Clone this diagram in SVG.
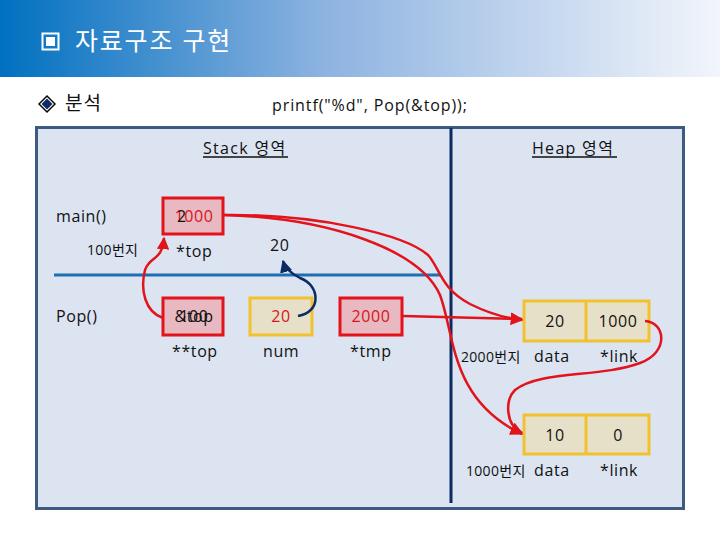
<svg xmlns="http://www.w3.org/2000/svg" width="720" height="540" viewBox="0 0 720 540">
<defs>
<linearGradient id="hdr" x1="0" y1="0" x2="1" y2="0">
<stop offset="0" stop-color="#0070C0"/>
<stop offset="0.45" stop-color="#8DB3E0"/>
<stop offset="1" stop-color="#F2F5FB"/>
</linearGradient>
<marker id="ar" viewBox="0 0 10 10" refX="9" refY="5" markerWidth="5" markerHeight="5" orient="auto" markerUnits="strokeWidth">
<path d="M0,0 L10,5 L0,10 z" fill="#E3131B"/>
</marker>
<marker id="an" viewBox="0 0 10 10" refX="9" refY="5" markerWidth="5" markerHeight="5" orient="auto" markerUnits="strokeWidth">
<path d="M0,0 L10,5 L0,10 z" fill="#0D2B63"/>
</marker>
</defs>
<style>
text{font-family:"Open Sans","Noto Sans CJK KR",sans-serif;fill:#111}
.t16{font-size:16px;letter-spacing:0.6px}
.t14{font-size:14px;letter-spacing:0.3px}
.hd{font-size:16px;letter-spacing:1.3px}
.red{fill:#D7141C}
.rbox{fill:#E8B9C0;stroke:#E3131B;stroke-width:3}
.ybox{fill:#E6E0C8;stroke:#F2C12E;stroke-width:3}
.rl{fill:none;stroke:#E3131B;stroke-width:2.5}
.nl{fill:none;stroke:#0D2B63;stroke-width:2.5}
.c{text-anchor:middle}
</style>
<rect x="0" y="0" width="720" height="77" fill="url(#hdr)"/>
<g id="title">
<rect x="42.5" y="33.5" width="16" height="16" fill="none" stroke="#fff" stroke-width="2"/>
<rect x="46" y="37" width="9" height="9" fill="#fff"/>
<text x="75" y="50" style="font-size:25px;letter-spacing:1.8px;fill:#fff">자료구조 구현</text>
</g>
<g id="subtitle">
<path d="M47,95 L56,104 L47,113 L38,104 z" fill="#000"/>
<path d="M47,97 L54,104 L47,111 L40,104 z" fill="#fff"/>
<path d="M47,98.5 L52.5,104 L47,109.5 L41.5,104 z" fill="#0D2B63"/>
<text x="65" y="110" style="font-size:19px;letter-spacing:1px">분석</text>
<text x="272" y="111" style="font-size:16px;letter-spacing:0.9px" fill="#222">printf("%d", Pop(&amp;top));</text>
</g>
<rect x="36.5" y="127.5" width="647" height="381" fill="#DCE4F2" stroke="#3F5A80" stroke-width="3"/>
<line x1="451" y1="128" x2="451" y2="503" stroke="#0D2B63" stroke-width="3"/>
<line x1="54" y1="275" x2="440" y2="275" stroke="#1F6FB0" stroke-width="3"/>
<g id="headers">
<text x="203" y="154" class="hd">Stack 영역</text>
<line x1="203" y1="157" x2="288" y2="157" stroke="#111" stroke-width="1.5"/>
<text x="532" y="154" class="hd">Heap 영역</text>
<line x1="532" y1="157" x2="617" y2="157" stroke="#111" stroke-width="1.5"/>
</g>
<g id="labels">
<text x="56" y="222" class="t16">main()</text>
<text x="87" y="255" class="t14">100번지</text>
<text x="56" y="322" class="t16">Pop()</text>
<text x="176" y="257" class="t16">*top</text>
<text x="270" y="251" class="t16">20</text>
<text x="172" y="357" class="t16">**top</text>
<text x="263" y="357" class="t16">num</text>
<text x="350" y="357" class="t16">*tmp</text>
</g>
<g id="main-top">
<rect x="163" y="198" width="60" height="36" class="rbox"/>
<text x="194" y="222" class="t16 red c">1000</text>
<text x="177" y="222" class="t16">2</text>
</g>
<g id="pop-top">
<rect x="163" y="298" width="60" height="37" class="rbox"/>
<text x="194" y="322" class="t16 c">&amp;top</text>
<text x="194" y="322" class="t16 c">100</text>
</g>
<g id="num">
<rect x="250" y="298" width="62" height="37" class="ybox"/>
<text x="281" y="322" class="t16 red c">20</text>
</g>
<g id="tmp">
<rect x="340" y="298" width="62" height="37" class="rbox"/>
<text x="371" y="322" class="t16 red c">2000</text>
</g>
<g id="node2000">
<rect x="524" y="301" width="125" height="40" class="ybox"/>
<line x1="586" y1="301" x2="586" y2="341" stroke="#F2C12E" stroke-width="3"/>
<text x="555" y="327" class="t16 c">20</text>
<text x="618" y="327" class="t16 c">1000</text>
<text x="461" y="362" class="t14">2000번지</text>
<text x="534" y="362" class="t16">data</text>
<text x="600" y="362" class="t16">*link</text>
</g>
<g id="node1000">
<rect x="524" y="415" width="125" height="39" class="ybox"/>
<line x1="586" y1="415" x2="586" y2="454" stroke="#F2C12E" stroke-width="3"/>
<text x="555" y="441" class="t16 c">10</text>
<text x="618" y="441" class="t16 c">0</text>
<text x="466" y="476" class="t14">1000번지</text>
<text x="534" y="476" class="t16">data</text>
<text x="600" y="476" class="t16">*link</text>
</g>
<g id="connectors">
<path class="rl" d="M224,215 C320,214 405,235 428,255 C440,268 440,288 470,304 C490,314 505,318 522,320" marker-end="url(#ar)"/>
<path class="rl" d="M224,215 C330,218 420,250 440,295 C455,335 450,400 522,434" marker-end="url(#ar)"/>
<path class="rl" d="M403,316 L522,319" marker-end="url(#ar)"/>
<path class="rl" d="M645,321 C665,322 670,352 640,363 C600,378 540,370 515,390 C505,400 505,425 522,433" marker-end="url(#ar)"/>
<path class="rl" d="M163,318 C145,312 140,290 145,270 C150,255 162,262 164,238" marker-end="url(#ar)"/>
<path class="nl" d="M298,316 C322,312 320,285 300,278 C290,273 285,268 283,261" marker-end="url(#an)"/>
</g>
</svg>
